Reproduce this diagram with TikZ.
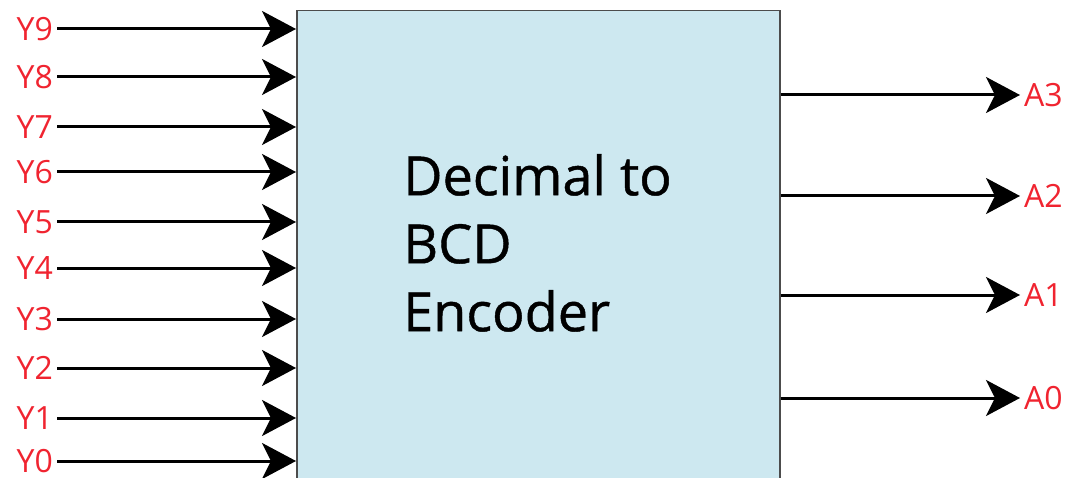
\documentclass[tikz,border=0pt]{standalone}
\usepackage{fontspec}
\setmainfont{Open Sans}
\newfontfamily\titlefont[FakeBold=0.8]{Open Sans}
\usetikzlibrary{arrows.meta}

\definecolor{encfill}{HTML}{CDE8F0}
\definecolor{sigred}{HTML}{F02430}

\tikzset{
	sig/.style={line width=3pt, -{Stealth[length=34pt, width=36pt, inset=9pt]}},
	lbl/.style={text=sigred, font=\fontsize{32}{33}\selectfont, inner sep=4pt},
}

\begin{document}
\begin{tikzpicture}[x=1pt, y=-1pt]
		\useasboundingbox (0, 0) rectangle (1070, 478);
		\node[draw=black!70, line width=1.5pt, fill=encfill, anchor=north west, minimum width=483pt, minimum height=472pt, inner sep=0pt] (enc) at (296, 10) {};
		\node[anchor=north west, align=left, inner sep=0pt, font=\titlefont\fontsize{54}{68}\selectfont] (title) at (403, 154) {Decimal to\\BCD\\Encoder};
		% inputs Y9..Y0
		\foreach \y/\n in {29/9, 77/8, 127/7, 172/6, 222/5, 268/4, 319/3, 368/2, 418/1, 461/0} {
			\node[lbl, anchor=east] (y\n) at (57, \y) {Y\n};
			\draw[sig] (y\n.east) -- (enc.west |- y\n.east);
		};
		% outputs A3..A0
		\foreach \y/\n in {95/3, 196/2, 295/1, 398/0} {
			\node[lbl, anchor=west] (a\n) at (1020, \y) {A\n};
			\draw[sig] (enc.east |- a\n.west) -- (a\n.west);
		};
	\end{tikzpicture}
\end{document}
